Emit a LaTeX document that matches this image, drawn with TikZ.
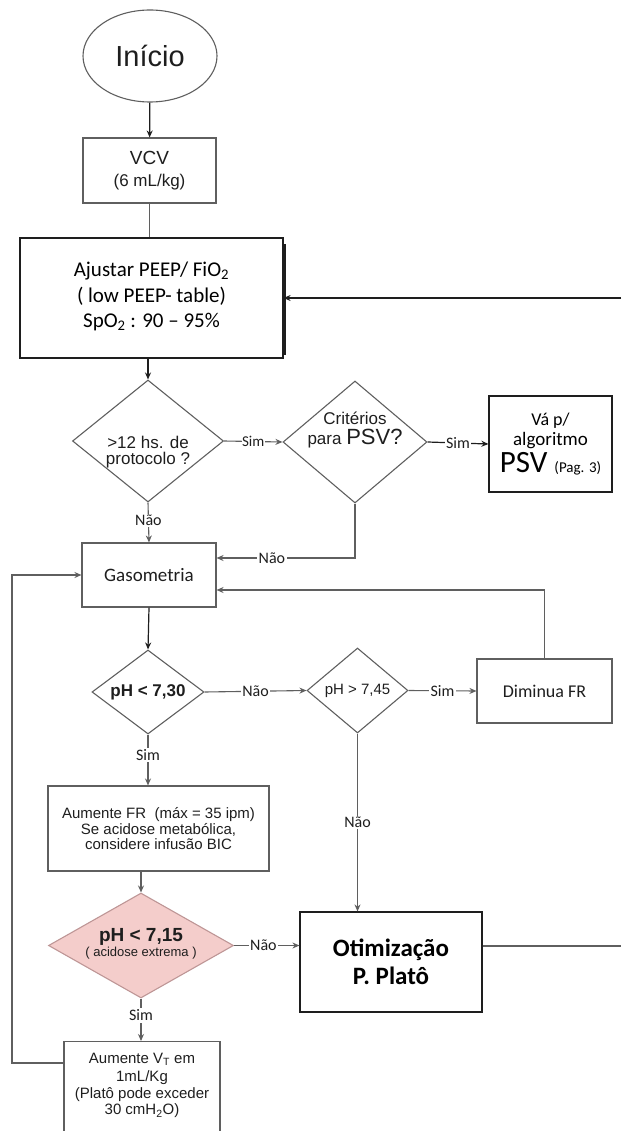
\documentclass[tikz,border=0pt]{standalone}
\usepackage{fontspec}
\setmainfont{Liberation Sans}
\newfontfamily\calfont{Carlito}
\usetikzlibrary{shapes.geometric,arrows.meta,calc}
\definecolor{dk}{RGB}{30,30,30}
\definecolor{gr}{RGB}{95,95,95}
\definecolor{pinkfill}{RGB}{244,205,203}
\definecolor{pinkdraw}{RGB}{190,150,150}
\newcommand{\fs}[1]{\fontsize{#1}{#1}\selectfont}
\tikzset{
  box/.style={draw=gr, line width=1.1pt, rectangle, inner sep=0pt, align=center, text=dk},
  dbox/.style={draw=dk, line width=1.2pt, rectangle, inner sep=0pt, align=center, text=black},
  dia/.style={draw=gr, line width=1.1pt, diamond, inner sep=0pt, align=center, text=dk},
  txt/.style={inner sep=0pt, align=center, text=dk},
  arr/.style={draw=gr, line width=1.1pt, -{Stealth[length=7pt,width=6pt]}},
  darr/.style={draw=dk, line width=1.2pt, -{Stealth[length=7pt,width=6pt]}},
  ln/.style={draw=gr, line width=1.1pt},
  lab/.style={fill=white, inner sep=1.5pt, text=dk, font=\calfont\fs{16}}
}
\begin{document}
\begin{tikzpicture}[x=1pt,y=-1pt]
\useasboundingbox (0,0) rectangle (621,1131);
\clip (0,0) rectangle (621,1131);
% nodes
\node[draw=gr, line width=1.1pt, ellipse, minimum width=134pt, minimum height=92pt, inner sep=0pt, text=dk] (start) at (150,56) {\fs{29}Início};
\node[box, minimum width=133pt, minimum height=65pt] (vcv) at (149.5,170.5)
  {\raisebox{-2pt}{\begin{tabular}{@{}c@{}}\fs{19}VCV\\[6pt]\fs{17}(6 mL/kg)\end{tabular}}};
\node[dbox, minimum width=263pt, minimum height=120pt] (ajustar) at (151.5,298)
  {\calfont\fs{21}\raisebox{5pt}{\begin{tabular}{@{}c@{}}Ajustar PEEP/ FiO\textsubscript{2}\\[4pt]( low PEEP- table)\\[4pt]SpO\textsubscript{2} : 90 – 95\%\end{tabular}}};
\node[dia, minimum width=151pt, minimum height=122pt] (d1) at (148,441) {};
\node[txt] (d1t) at (148,452) {\fs{17}>12 hs. de\\[3pt]\fs{17}protocolo ?};
\node[dia, minimum width=144pt, minimum height=122pt] (d2) at (355,442) {};
\node[txt] (d2t) at (355,430) {\fs{17}Critérios\\[3pt]\fs{17}para \fs{22}PSV?};
\node[dbox, minimum width=123pt, minimum height=96pt] (psv) at (550.5,444)
  {\calfont\fs{18}Vá p/\\[3pt]\calfont\fs{19}algoritmo\\[3pt]\calfont\fs{31}PSV \fs{15}(Pag. 3)};
\node[box, minimum width=134pt, minimum height=64pt] (gaso) at (149,575) {\calfont\fs{19}Gasometria};
\node[dia, minimum width=112pt, minimum height=84pt] (d3) at (148,692) {};
\node[txt] (d3t) at (148,692) {\bfseries\fs{17}pH < 7,30};
\node[dia, minimum width=101pt, minimum height=85pt] (d4) at (357.5,690.5) {};
\node[txt] (d4t) at (357.5,690.5) {\fs{15}pH > 7,45};
\node[box, minimum width=135pt, minimum height=64pt] (dim) at (544.5,691) {\calfont\fs{18}Diminua FR};
\node[box, minimum width=221pt, minimum height=85pt] (afr) at (158.5,828.5)
  {\fs{15}Aumente FR~ (máx = 35 ipm)\\[1pt]\fs{15}Se acidose metabólica,\\[1pt]\fs{15}considere infusão BIC};
\node[dia, draw=pinkdraw, fill=pinkfill, minimum width=185pt, minimum height=105pt] (d5) at (141,945.5) {};
\node[txt] (d5t) at (141,944) {\bfseries\fs{19}pH < 7,15\\[1pt]\fs{13}( acidose extrema )};
\node[dbox, minimum width=182pt, minimum height=100pt] (otim) at (391,962)
  {\calfont\bfseries\fs{25}Otimização\\[5pt]\calfont\bfseries\fs{25}P. Platô};
\node[box, minimum width=156pt, minimum height=108pt, anchor=north] (avt) at (142,1041) {};
\node[txt, anchor=north] (avttxt) at (142,1053)
  {\fs{15}Aumente V\textsubscript{T} em\\[4pt]\fs{15}1mL/Kg\\[2pt]\fs{15}(Platô pode exceder\\[1pt]\fs{15}30 cmH\textsubscript{2}O)};
% coordinates at the picture edge
\coordinate (r1) at (621,298);
\coordinate (r2) at (621,946);
\coordinate (lx) at (12,1063);
% right edge shadow of Ajustar
\draw[dk, line width=2.2pt] ([xshift=1pt,yshift=-7pt]ajustar.north east) -- ([xshift=1pt,yshift=4pt]ajustar.south east);
% connectors
\draw[darr] (start) -- (vcv);
\draw[ln] (vcv.south) -- (vcv.south |- ajustar.north);
\draw[darr] (d1.north |- ajustar.south) -- (d1.north);
\draw[darr] (r1) -- (ajustar.east);
\draw[arr] (d1.east) -- node[lab, inner sep=0.5pt, font=\calfont\fs{15}]{Sim} (d2.west);
\draw[darr] (d2.east) -- node[lab]{Sim} (psv.west);
\draw[arr] (d1.south) -- node[lab, pos=0.45]{Não} (gaso.north);
\draw[arr] (d2.south) |- node[lab, pos=0.8]{Não} ([yshift=17pt]gaso.east);
\draw[arr] (dim.north) |- ([yshift=-15pt]gaso.east);
\draw[darr] (gaso.south) -- (d3.north);
\draw[arr] (d3.east) -- node[lab, pos=0.5]{Não} (d4.west);
\draw[arr] (d4.east) -- node[lab]{Sim} (dim.west);
\draw[arr] (d3.south) -- node[lab, pos=0.4]{Sim} (d3.south |- afr.north);
\draw[arr] (d5.north |- afr.south) -- (d5.north);
\draw[arr] (d5.east) -- node[lab, pos=0.45]{Não} (d5.east -| otim.west);
\draw[arr] (d4.south) -- node[lab, pos=0.5]{Não} (d4.south |- otim.north);
\draw[arr] (d5.south) -- node[lab, pos=0.4]{Sim} (d5.south |- avt.north);
\draw[arr] ([yshift=-22pt]avt.north west) -- (lx) |- (gaso.west);
\draw[ln] ([yshift=16pt]otim.east) -- (r2);
\end{tikzpicture}
\end{document}
